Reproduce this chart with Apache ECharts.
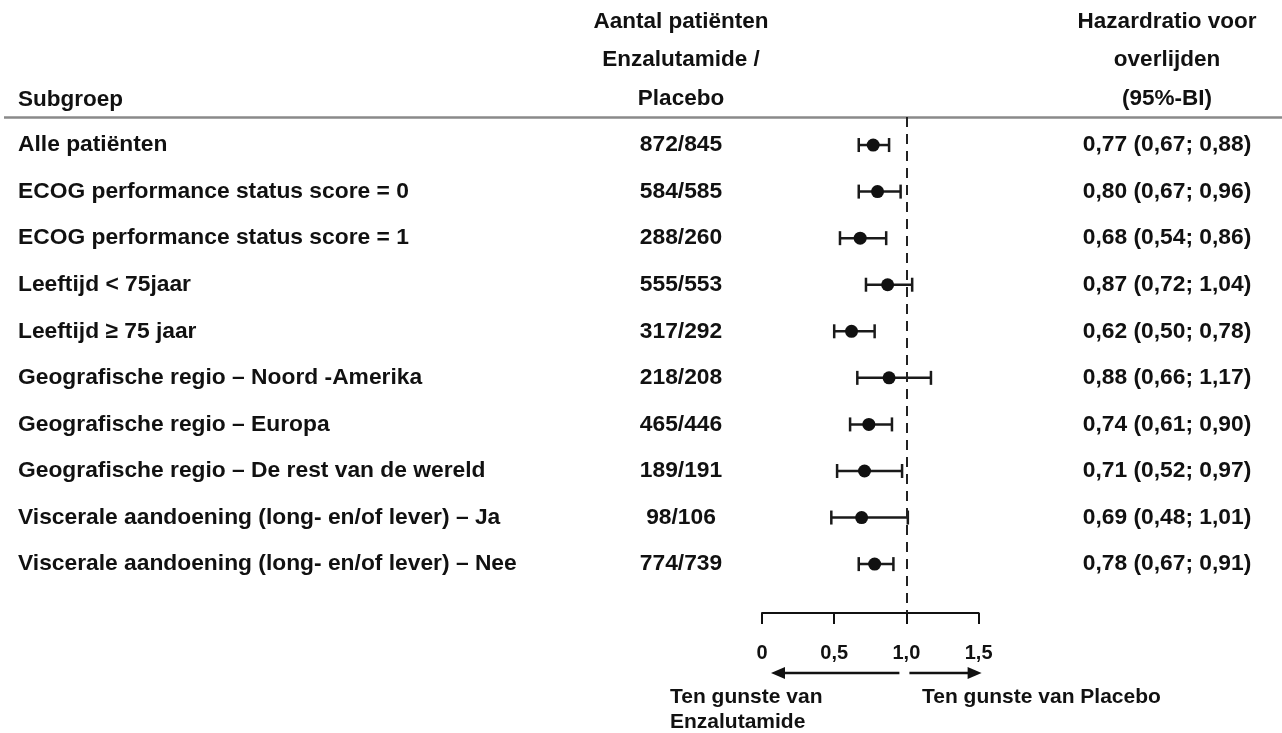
<!DOCTYPE html>
<html>
<head>
<meta charset="utf-8">
<script src="https://cdn.jsdelivr.net/npm/echarts@6/dist/echarts.min.js"></script>
<style>
  html, body { margin: 0; padding: 0; background: #fff; }
  #chart { width: 1282px; height: 733px; }
</style>
</head>
<body>
<div id="chart"></div>
<script>
// Subgroups of the forest plot, top to bottom
const subgroups = [
  'Alle patiënten',
  'ECOG performance status score = 0',
  'ECOG performance status score = 1',
  'Leeftijd < 75jaar',
  'Leeftijd ≥ 75 jaar',
  'Geografische regio – Noord -Amerika',
  'Geografische regio – Europa',
  'Geografische regio – De rest van de wereld',
  'Viscerale aandoening (long- en/of lever) – Ja',
  'Viscerale aandoening (long- en/of lever) – Nee'
];
// Number of patients, enzalutamide / placebo
const counts = ['872/845', '584/585', '288/260', '555/553', '317/292',
                '218/208', '465/446', '189/191', '98/106', '774/739'];
// Hazard ratio with 95% confidence interval
const hazard = [0.77, 0.80, 0.68, 0.87, 0.62, 0.88, 0.74, 0.71, 0.69, 0.78];
const lower  = [0.67, 0.67, 0.54, 0.72, 0.50, 0.66, 0.61, 0.52, 0.48, 0.67];
const upper  = [0.88, 0.96, 0.86, 1.04, 0.78, 1.17, 0.90, 0.97, 1.01, 0.91];
// Axis ticks
const xTicks = [0, 0.5, 1.0, 1.5];

const FONT = '"Liberation Sans", Arial, sans-serif';
const INK = '#111';
const ROW_SIZE = 22.8;
const HEAD_SIZE = 22.5;
const FOOT_SIZE = 21;

const fmt = v => v.toFixed(2).replace('.', ',');
const tickFmt = v => (v === 0 ? '0' : v.toFixed(1).replace('.', ','));

const rows = subgroups.map((s, i) => [hazard[i], i, lower[i], upper[i]]);

const chart = echarts.init(document.getElementById('chart'), null, { renderer: 'canvas' });

const Y_MIN = -0.6, Y_MAX = 10.05;

chart.setOption({
  animation: false,
  backgroundColor: '#fff',
  grid: { left: 762, right: 303.4, top: 117.1, bottom: 733 - 613.0, containLabel: false },
  xAxis: {
    type: 'value', min: 0, max: 1.5, interval: 0.5,
    splitLine: { show: false },
    axisLine: { show: true, onZero: false, lineStyle: { color: INK, width: 2 } },
    axisTick: { show: true, inside: false, length: 11, lineStyle: { color: INK, width: 2 } },
    axisLabel: {
      margin: 30, color: INK, fontFamily: FONT, fontWeight: 'bold', fontSize: 20,
      formatter: v => (xTicks.includes(v) ? tickFmt(v) : '')
    }
  },
  yAxis: {
    type: 'value', inverse: true, min: Y_MIN, max: Y_MAX, show: false
  },
  series: [
    {
      // confidence intervals with end caps, plus row texts
      type: 'custom',
      data: rows,
      clip: false,
      renderItem: (params, api) => {
        const i = api.value(1);
        const a = api.coord([api.value(2), i]);
        const b = api.coord([api.value(3), i]);
        const cap = 7;
        const style = { stroke: '#1a1a1a', lineWidth: 2.5 };
        const txt = (text, x, align) => ({
          type: 'text',
          style: {
            text, x, y: a[1], align, verticalAlign: 'middle',
            font: 'bold ' + ROW_SIZE + 'px ' + FONT, fill: INK
          }
        });
        return {
          type: 'group',
          children: [
            { type: 'line', shape: { x1: a[0], y1: a[1], x2: b[0], y2: b[1] }, style },
            { type: 'line', shape: { x1: a[0], y1: a[1] - cap, x2: a[0], y2: a[1] + cap }, style },
            { type: 'line', shape: { x1: b[0], y1: b[1] - cap, x2: b[0], y2: b[1] + cap }, style },
            txt(subgroups[i], 18, 'left'),
            txt(counts[i], 681, 'center'),
            txt(fmt(hazard[i]) + ' (' + fmt(lower[i]) + '; ' + fmt(upper[i]) + ')', 1167, 'center')
          ]
        };
      },
      encode: { x: 0, y: 1 },
      z: 3
    },
    {
      type: 'scatter',
      data: rows.map(r => [r[0], r[1]]),
      symbol: 'circle', symbolSize: 13,
      itemStyle: { color: '#111', opacity: 1 },
      z: 4,
      markLine: {
        silent: true, symbol: 'none', label: { show: false },
        lineStyle: { color: '#222', width: 2, type: [10, 7] },
        data: [{ xAxis: 1 }]
      }
    }
  ]
});

// Header and direction arrows
const x0 = chart.convertToPixel({ xAxisIndex: 0 }, 0);
const x1 = chart.convertToPixel({ xAxisIndex: 0 }, 1);
const x15 = chart.convertToPixel({ xAxisIndex: 0 }, 1.5);
const ay = 673;
const head = (tipX, dir) => ({
  type: 'polygon',
  shape: { points: [[tipX, ay], [tipX - dir * 14, ay - 6], [tipX - dir * 14, ay + 6]] },
  style: { fill: INK }
});
const htxt = (text, x, y, align, size) => ({
  type: 'text',
  style: { text, x, y, align, verticalAlign: 'middle', font: 'bold ' + size + 'px ' + FONT, fill: INK }
});

chart.setOption({
  graphic: [
    htxt('Subgroep', 18, 100, 'left', HEAD_SIZE),
    htxt('Aantal patiënten', 681, 22, 'center', HEAD_SIZE),
    htxt('Enzalutamide /', 681, 60, 'center', HEAD_SIZE),
    htxt('Placebo', 681, 99, 'center', HEAD_SIZE),
    htxt('Hazardratio voor', 1167, 22, 'center', HEAD_SIZE),
    htxt('overlijden', 1167, 60, 'center', HEAD_SIZE),
    htxt('(95%-BI)', 1167, 99, 'center', HEAD_SIZE),
    { type: 'line', shape: { x1: 4, y1: 117.5, x2: 1282, y2: 117.5 }, style: { stroke: '#8a8a8a', lineWidth: 2.5 } },
    { type: 'line', shape: { x1: x0 + 20, y1: ay, x2: x1 - 7, y2: ay }, style: { stroke: INK, lineWidth: 2.5 } },
    head(x0 + 9, -1),
    { type: 'line', shape: { x1: x1 + 3, y1: ay, x2: x15 - 2, y2: ay }, style: { stroke: INK, lineWidth: 2.5 } },
    head(x15 + 3, 1),
    htxt('Ten gunste van', 670, 697, 'left', FOOT_SIZE),
    htxt('Enzalutamide', 670, 722, 'left', FOOT_SIZE),
    htxt('Ten gunste van Placebo', 922, 697, 'left', FOOT_SIZE)
  ]
});
</script>
</body>
</html>
